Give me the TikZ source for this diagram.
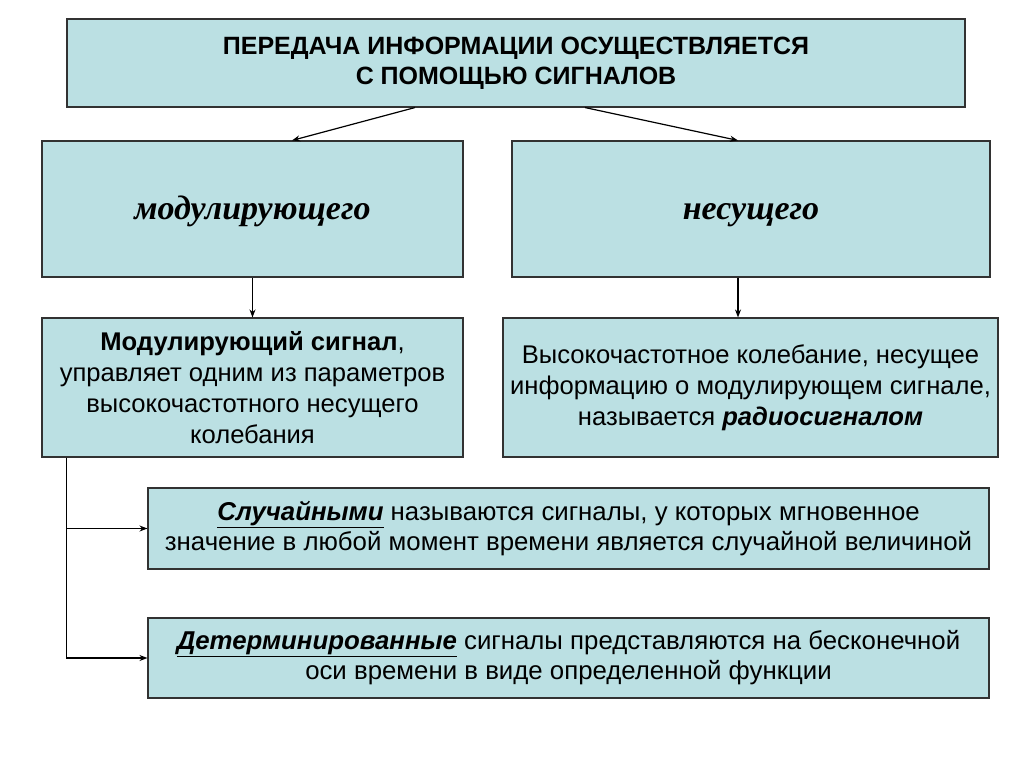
\documentclass[tikz,border=0pt]{standalone}
\usepackage{fontspec}
\setmainfont{Liberation Sans}
\newfontfamily\serifbi{Liberation Serif}
\usetikzlibrary{arrows.meta}
\definecolor{boxfill}{RGB}{187,224,227}
\definecolor{boxline}{RGB}{50,50,50}
\tikzset{
  box/.style={draw=boxline, line width=1.1pt, fill=boxfill, align=center, inner sep=0pt, anchor=center,
    font=\fontsize{25.6}{31}\selectfont},
  topfont/.style={font=\fontsize{25}{30}\selectfont\bfseries},
  serfont/.style={font=\serifbi\fontsize{34}{38}\selectfont\bfseries\itshape, text height=25pt, text depth=4pt},
  lowfont/.style={font=\fontsize{25.8}{30}\selectfont},
  conn/.style={line width=1.2pt, -{Stealth[length=8pt,width=6pt]}},
}
\begin{document}
\begin{tikzpicture}[x=1pt,y=-1pt]
\useasboundingbox[fill=white] (0,0) rectangle (1024,767);
\node[box, topfont, minimum width=898pt, minimum height=88pt] (top) at (516,63)
  {ПЕРЕДАЧА ИНФОРМАЦИИ ОСУЩЕСТВЛЯЕТСЯ\\ С ПОМОЩЬЮ СИГНАЛОВ};
\node[box, serfont, minimum width=421pt, minimum height=136pt] (b1) at (252.5,209)
  {модулирующего};
\node[box, serfont, minimum width=478pt, minimum height=136pt] (b2) at (751,209)
  {несущего};
\node[box, minimum width=421pt, minimum height=139pt] (b3) at (252.5,387.5)
  {\textbf{Модулирующий сигнал},\\ управляет одним из параметров\\ высокочастотного несущего\\ колебания};
\node[box, minimum width=495pt, minimum height=139pt] (b4) at (750.5,387.5)
  {Высокочастотное колебание, несущее\\ информацию о модулирующем сигнале,\\ называется \textbf{\textit{радиосигналом}}};
\node[box, lowfont, minimum width=841pt, minimum height=81pt] (b5) at (568.5,528.5)
  {\underline{\textbf{\textit{Случайными}}} называются сигналы, у которых мгновенное\\ значение в любой момент времени является случайной величиной};
\node[box, lowfont, minimum width=841pt, minimum height=80pt] (b6) at (568.5,658)
  {\underline{\textbf{\textit{Детерминированные}}} сигналы представляются на бесконечной\\ оси времени в виде определенной функции};
\draw[conn] ([xshift=-101pt]top.south) -- ([xshift=39.5pt]b1.north);
\draw[conn] ([xshift=69pt]top.south) -- ([xshift=-13pt]b2.north);
\draw[conn] (b1.south) -- (b3.north);
\draw[conn] ([xshift=-13pt]b2.south) -- ([xshift=-12.5pt]b4.north);
\coordinate (br) at ([xshift=25pt]b3.south west);
\draw[conn] (br) |- (b5.west);
\draw[conn] (br) |- (b6.west);
\end{tikzpicture}
\end{document}
